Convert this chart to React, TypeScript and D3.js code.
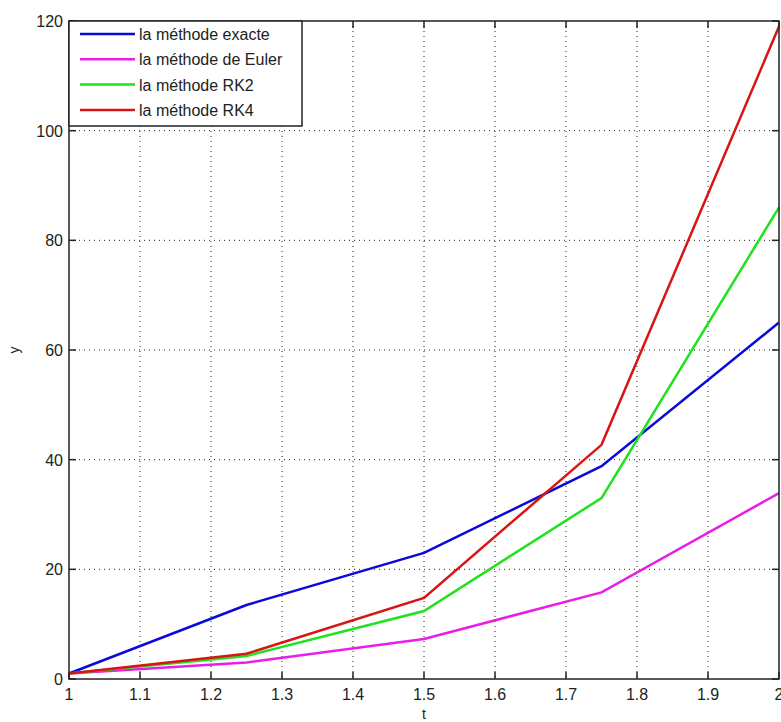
import React, { useEffect, useRef } from 'react';
import * as d3 from 'd3';

const tValues = [1, 1.25, 1.5, 1.75, 2];
const exacte = [1, 13.5, 23, 38.8, 65];
const euler = [1, 3.0, 7.3, 15.8, 33.9];
const rk2 = [1, 4.2, 12.4, 33.0, 86];
const rk4 = [1, 4.6, 14.8, 42.7, 119];

const seriesNames = ['la méthode exacte', 'la méthode de Euler', 'la méthode RK2', 'la méthode RK4'];
const seriesColors = ['#0a0ad8', '#e81ee8', '#1ee21e', '#d81414'];
const xTicks = [1, 1.1, 1.2, 1.3, 1.4, 1.5, 1.6, 1.7, 1.8, 1.9, 2];
const yTicks = [0, 20, 40, 60, 80, 100, 120];

const App = () => {
  const ref = useRef<SVGSVGElement>(null);

  useEffect(() => {
    const svg = d3.select(ref.current);
    svg.selectAll('*').remove();

    const left = 69, right = 779, top = 21, bottom = 679;
    const x = d3.scaleLinear().domain([1, 2]).range([left, right]);
    const y = d3.scaleLinear().domain([0, 120]).range([bottom, top]);
    const font = 'Liberation Sans, Arial, sans-serif';

    svg.append('rect').attr('width', 781).attr('height', 722).attr('fill', '#fff');

    // grid
    const grid = svg.append('g').attr('stroke', '#222').attr('stroke-width', 1).attr('stroke-dasharray', '1,4');
    xTicks.slice(1, -1).forEach(t => {
      grid.append('line').attr('x1', x(t)).attr('x2', x(t)).attr('y1', top).attr('y2', bottom);
    });
    yTicks.slice(1, -1).forEach(v => {
      grid.append('line').attr('x1', left).attr('x2', right).attr('y1', y(v)).attr('y2', y(v));
    });

    // ticks (inward, all four sides)
    const tl = 7;
    const ticks = svg.append('g').attr('stroke', '#222').attr('stroke-width', 1.5);
    xTicks.forEach(t => {
      ticks.append('line').attr('x1', x(t)).attr('x2', x(t)).attr('y1', bottom).attr('y2', bottom - tl);
      ticks.append('line').attr('x1', x(t)).attr('x2', x(t)).attr('y1', top).attr('y2', top + tl);
    });
    yTicks.forEach(v => {
      ticks.append('line').attr('x1', left).attr('x2', left + tl).attr('y1', y(v)).attr('y2', y(v));
      ticks.append('line').attr('x1', right).attr('x2', right - tl).attr('y1', y(v)).attr('y2', y(v));
    });

    // tick labels
    svg.append('g').selectAll('text').data(xTicks).enter().append('text')
      .attr('x', d => x(d)).attr('y', 700)
      .attr('text-anchor', 'middle')
      .attr('font-family', font).attr('font-size', 16).attr('fill', '#222')
      .text(d => String(d));
    svg.append('g').selectAll('text').data(yTicks).enter().append('text')
      .attr('x', 63).attr('y', d => y(d) + 6)
      .attr('text-anchor', 'end')
      .attr('font-family', font).attr('font-size', 16).attr('fill', '#222')
      .text(d => String(d));

    // series
    const line = d3.line<number>().x((d, i) => x(tValues[i])).y(d => y(d));
    [exacte, euler, rk2, rk4].forEach((s, i) => {
      svg.append('path').datum(s).attr('d', line)
        .attr('fill', 'none').attr('stroke', seriesColors[i]).attr('stroke-width', 2.5);
    });

    // axes box
    svg.append('rect').attr('x', left).attr('y', top).attr('width', right - left).attr('height', bottom - top)
      .attr('fill', 'none').attr('stroke', '#222').attr('stroke-width', 1.5);

    // axis labels
    svg.append('text').attr('x', x(1.5)).attr('y', 719).attr('text-anchor', 'middle')
      .attr('font-family', font).attr('font-size', 14).attr('fill', '#222').text('t');
    svg.append('text').attr('transform', `translate(19,${y(60)}) rotate(-90)`).attr('text-anchor', 'middle')
      .attr('font-family', font).attr('font-size', 14).attr('fill', '#222').text('y');

    // legend
    const lg = svg.append('g');
    lg.append('rect').attr('x', left).attr('y', top).attr('width', 233).attr('height', 105)
      .attr('fill', '#fff').attr('stroke', '#222').attr('stroke-width', 1.5);
    seriesNames.forEach((name, i) => {
      const ly = 34 + i * 25.3;
      lg.append('line').attr('x1', 80).attr('x2', 135).attr('y1', ly).attr('y2', ly)
        .attr('stroke', seriesColors[i]).attr('stroke-width', 2.5);
      lg.append('text').attr('x', 139).attr('y', ly + 6)
        .attr('font-family', font).attr('font-size', 16).attr('fill', '#222').text(name);
    });
  }, []);

  return <svg ref={ref} width={781} height={722} style={{ position: 'absolute', left: 0, top: 0 }}></svg>;
};

export default App;
